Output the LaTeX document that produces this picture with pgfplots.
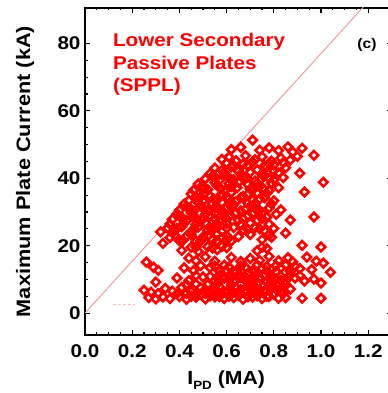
\documentclass[border=0pt]{standalone}
\usepackage{fontspec}
\setmainfont{Liberation Sans}[FakeStretch=1.12]
\usepackage{pgfplots}
\pgfplotsset{compat=1.18}
\definecolor{diag}{RGB}{238,150,150}
\begin{document}
\begin{tikzpicture}
\begin{axis}[
 scale only axis, width=306.8bp, height=327bp,
 xmin=0, xmax=1.3, ymin=-6.5, ymax=90.5,
 xtick={0,0.2,0.4,0.6,0.8,1.0,1.2}, ytick={0,20,40,60,80},
 minor x tick num=3, minor y tick num=3,
 tick align=inside,
 major tick length=5bp, minor tick length=2.5bp,
 axis line style={line width=2bp},
 every tick/.style={black, line width=1.1bp},
 /pgf/number format/assume math mode=true,
 x tick label style={/pgf/number format/.cd, fixed, fixed zerofill, precision=1, /tikz/.cd, yshift=-6bp},
 y tick label style={/pgf/number format/.cd, fixed, precision=0, /tikz/.cd, xshift=-1bp},
 tick label style={font=\fontsize{18.5}{20}\selectfont\bfseries},
 xlabel={I\raisebox{-0.3em}{\fontsize{12}{12}\selectfont PD} (MA)},
 ylabel={Maximum Plate Current (kA)},
 every axis x label/.style={at={(axis description cs:0.46,-0.138)}, anchor=center, font=\fontsize{19}{22}\selectfont\bfseries},
 every axis y label/.style={at={(axis description cs:-0.195,0.5)}, anchor=center, rotate=90, font=\fontsize{19.5}{22}\selectfont\bfseries},
]
\addplot[diag, line width=0.9bp] coordinates {(0,0) (1.3,100.1)};
\addplot[diag!60, densely dashed, line width=0.8bp] coordinates {(0.12,2.5) (0.21,2.5)};
\addplot[only marks, mark=square, mark size=3bp, mark options={rotate=45, line width=2.6bp, draw=red, fill=none}] table {
x y
0.62 48.5
0.66 49.2
0.71 51.3
0.74 48.3
0.78 49.0
0.82 48.2
0.86 49.3
0.88 47.8
0.92 48.9
0.97 46.8
0.58 45.6
0.61 46.3
0.64 45.2
0.68 46.7
0.72 45.5
0.75 46.4
0.79 45.1
0.83 46.0
0.87 45.4
0.90 46.5
0.55 43.0
0.58 42.3
0.62 43.4
0.65 42.1
0.69 43.6
0.73 42.5
0.77 43.3
0.80 42.2
0.85 43.1
0.91 41.5
0.51 39.8
0.54 40.6
0.57 39.4
0.60 40.8
0.63 39.6
0.67 40.4
0.72 39.2
0.76 40.7
0.80 39.5
0.84 40.2
1.01 38.8
0.46 36.4
0.49 37.3
0.52 36.6
0.56 37.8
0.59 36.2
0.62 37.5
0.70 36.8
0.74 37.6
0.78 36.3
0.82 37.2
0.93 35.9
0.44 33.4
0.47 34.5
0.50 33.2
0.53 34.7
0.56 33.6
0.60 34.3
0.64 33.1
0.67 34.6
0.71 33.5
0.76 34.2
0.80 33.3
0.40 30.5
0.43 31.6
0.46 30.2
0.49 31.8
0.52 30.6
0.55 31.3
0.58 30.4
0.62 31.5
0.66 30.3
0.70 31.7
0.74 30.5
0.78 31.2
0.83 30.6
0.37 27.8
0.40 28.7
0.43 27.4
0.46 28.6
0.50 27.9
0.53 28.8
0.57 27.3
0.61 28.5
0.65 27.6
0.69 28.9
0.73 27.5
0.77 28.4
0.87 27.6
0.97 28.5
0.32 24.1
0.35 25.2
0.38 24.4
0.41 25.6
0.45 24.3
0.48 25.5
0.52 24.6
0.55 25.8
0.58 24.2
0.63 25.4
0.67 24.7
0.72 25.3
0.76 24.5
0.80 25.1
0.85 23.7
0.33 20.7
0.36 22.4
0.40 21.5
0.43 22.8
0.47 21.3
0.50 22.6
0.54 21.7
0.58 22.3
0.62 21.4
0.65 22.7
0.75 21.8
0.79 22.5
0.92 20.1
1.00 19.6
0.41 18.6
0.45 19.5
0.48 18.3
0.52 19.7
0.56 18.8
0.60 19.4
0.73 18.5
0.77 19.2
0.26 15.1
0.44 16.3
0.47 15.5
0.51 16.7
0.55 15.4
0.62 16.5
0.66 15.3
0.70 16.2
0.74 15.6
0.78 16.8
0.82 15.5
0.86 16.4
0.88 15.2
0.94 16.6
0.98 15.4
1.01 14.8
0.29 13.6
0.31 12.7
0.42 13.4
0.46 12.6
0.53 13.5
0.57 12.4
0.61 13.7
0.64 12.3
0.68 13.6
0.71 12.5
0.75 13.3
0.79 12.8
0.83 13.5
0.87 12.4
0.91 13.2
0.96 12.9
1.04 12.1
0.30 9.2
0.39 10.4
0.44 9.6
0.50 10.7
0.55 9.5
0.59 10.3
0.63 9.4
0.66 10.6
0.70 9.7
0.74 10.5
0.77 9.3
0.81 10.2
0.85 9.6
0.89 10.4
0.93 9.5
0.97 10.1
1.00 8.9
0.25 6.8
0.28 6.2
0.34 7.3
0.37 6.5
0.41 7.6
0.45 6.4
0.49 7.5
0.53 6.6
0.57 7.8
0.60 6.3
0.64 7.4
0.68 6.7
0.72 7.7
0.76 6.5
0.79 7.3
0.83 6.4
0.87 7.1
0.27 4.6
0.30 4.2
0.33 4.8
0.36 4.3
0.40 4.9
0.43 4.1
0.47 4.7
0.51 4.2
0.55 4.8
0.59 4.3
0.63 4.6
0.67 4.1
0.71 4.7
0.75 4.3
0.78 4.9
0.82 4.4
0.85 4.6
0.92 4.4
1.00 4.4
0.60 44.5
0.67 44.2
0.71 44.8
0.78 44.4
0.84 44.6
0.53 41.4
0.59 41.7
0.66 41.3
0.70 41.8
0.75 41.2
0.82 41.6
0.48 38.3
0.55 38.7
0.61 38.4
0.65 38.8
0.69 38.2
0.73 38.6
0.79 38.5
0.45 35.3
0.51 35.7
0.58 35.4
0.62 35.8
0.69 35.2
0.73 35.6
0.77 35.5
0.42 32.3
0.48 32.7
0.54 32.4
0.58 32.8
0.63 32.2
0.69 32.6
0.72 32.5
0.79 32.4
0.39 29.4
0.45 29.7
0.51 29.3
0.55 29.6
0.59 29.5
0.64 29.8
0.71 29.4
0.75 29.6
0.81 29.3
0.36 26.4
0.42 26.7
0.47 26.3
0.51 26.8
0.56 26.5
0.60 26.6
0.66 26.2
0.70 26.7
0.78 26.4
0.38 23.1
0.45 23.2
0.52 22.9
0.56 23.4
0.60 23.0
0.70 23.3
0.78 23.1
0.47 19.6
0.54 19.3
0.58 19.8
0.75 19.5
0.49 14.1
0.55 13.9
0.59 14.2
0.66 14.0
0.73 14.3
0.77 13.8
0.81 14.1
0.85 14.2
0.89 13.9
0.47 11.1
0.53 10.9
0.57 11.2
0.61 11.0
0.65 11.3
0.68 10.8
0.72 11.1
0.76 11.2
0.79 10.9
0.83 11.0
0.87 11.3
0.91 11.1
0.43 8.4
0.47 8.6
0.52 8.5
0.56 8.7
0.62 8.4
0.66 8.6
0.70 8.3
0.73 8.7
0.78 8.5
0.81 8.4
0.85 8.6
0.31 5.8
0.39 5.7
0.43 5.9
0.47 5.6
0.51 5.8
0.55 5.7
0.58 5.9
0.62 5.6
0.66 5.8
0.70 5.7
0.74 5.9
0.80 5.6
0.84 5.8
0.63 43.8
0.69 43.9
0.76 43.7
0.80 44.0
0.555 40.1
0.615 39.9
0.685 40.2
0.745 39.8
0.78 40.0
0.505 37.1
0.575 36.9
0.645 37.2
0.715 36.8
0.755 37.0
0.485 34.1
0.545 33.9
0.61 34.0
0.66 34.2
0.74 33.8
0.445 31.1
0.505 30.9
0.565 31.0
0.60 31.2
0.68 30.8
0.72 31.1
0.415 28.1
0.475 27.9
0.55 28.0
0.595 28.2
0.67 27.9
0.75 28.1
0.39 25.1
0.465 24.9
0.535 25.0
0.60 25.2
0.69 24.8
0.74 25.0
0.415 21.6
0.49 21.4
0.56 21.5
0.60 21.7
0.60 12.5
0.66 12.6
0.72 12.4
0.77 12.5
0.81 12.3
0.57 9.8
0.61 9.9
0.68 9.7
0.72 9.8
0.79 9.9
0.83 9.7
0.51 7.0
0.55 7.1
0.62 6.9
0.66 7.0
0.70 7.2
0.74 6.9
0.81 7.0
0.45 5.0
0.53 5.1
0.57 4.9
0.61 5.0
0.65 5.2
0.69 4.9
0.73 5.1
0.77 5.0
};
\node[anchor=north west, inner sep=0pt, align=left, text=red, font=\fontsize{18.5}{22.5}\selectfont\bfseries] at (axis cs:0.118,83) {Lower Secondary\\Passive Plates\\(SPPL)};
\node[font=\fontsize{14}{16}\selectfont\bfseries] at (axis cs:1.195,79.5) {(c)};
\coordinate (bl) at (rel axis cs:0,0);
\coordinate (tr) at (rel axis cs:1,1);
\end{axis}
\pgfresetboundingbox
\path[use as bounding box] ([shift={(-85bp,-58bp)}]bl) rectangle ([shift={(-4.8bp,8bp)}]tr);
\end{tikzpicture}
\end{document}
